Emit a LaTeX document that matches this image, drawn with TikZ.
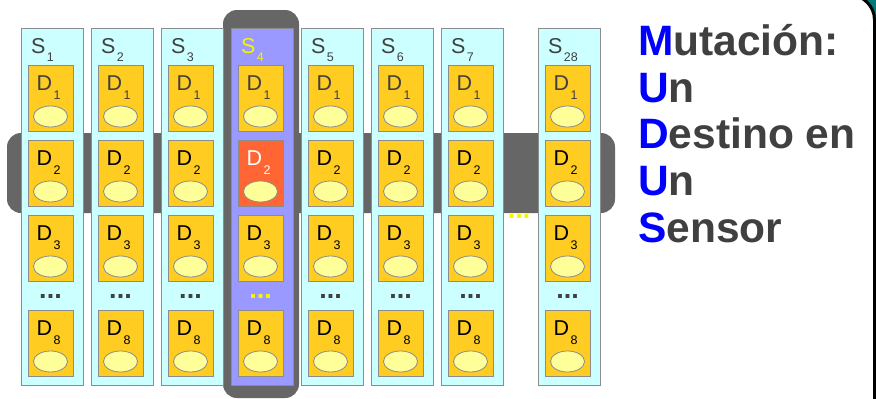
\documentclass[tikz,border=0pt]{standalone}
\usepackage{fontspec}
\setmainfont{Liberation Sans}
\usetikzlibrary{shapes.geometric}
\definecolor{darkbar}{HTML}{666666}
\definecolor{colfill}{HTML}{CCFFFF}
\definecolor{selfill}{HTML}{9999FF}
\definecolor{dfill}{HTML}{FFCC22}
\definecolor{efill}{HTML}{FFFF99}
\definecolor{redfill}{HTML}{FF6633}
\definecolor{txtgray}{HTML}{404040}
\definecolor{tealbg}{HTML}{007A7A}
\definecolor{selyellow}{HTML}{F5F500}
\definecolor{boxline}{HTML}{8C8C8C}
\definecolor{initblue}{HTML}{0000FF}
\newcommand{\sublab}[2]{{\fontsize{21.5}{24}\selectfont #1}\kern1.3pt\raisebox{-8.5pt}{\fontsize{12.5}{14}\selectfont #2}}
\tikzset{
  colbox/.style={draw=boxline, line width=0.8pt, rectangle, anchor=north west, inner sep=0pt, minimum width=62pt, minimum height=357pt},
  dbox/.style={draw=boxline, line width=0.8pt, rectangle, anchor=north west, inner sep=0pt, minimum width=45pt, minimum height=66pt},
  oval/.style={ellipse, draw=boxline, line width=0.8pt, fill=efill, inner sep=0pt, minimum width=34pt, minimum height=21pt},
  lab/.style={anchor=base west, inner sep=0pt},
  dotsn/.style={anchor=base, inner sep=0pt, font=\fontsize{27}{30}\selectfont\bfseries},
  bigline/.style={anchor=base west, inner sep=0pt, text=txtgray, font=\fontsize{42.5}{47}\selectfont\bfseries}
}
\begin{document}
\begin{tikzpicture}[x=1pt, y=-1pt]
\useasboundingbox (0,0) rectangle (876,399);
\clip (0,0) rectangle (876,399);
% slide frame
\fill[tealbg] (845,-10) rectangle (880,40);
\filldraw[fill=white, draw=black, line width=3pt, rounded corners=25pt] (-50,-5) rectangle (874.5,450);
% dark highlight bars
\fill[darkbar, rounded corners=14pt] (223,10) rectangle (299,398);
\fill[darkbar, rounded corners=14pt] (7,133) rectangle (615,213);
\node[dotsn, text=selyellow] (gapdots) at (519,218) {...};
% sensor columns
\foreach \n/\x in {1/21,2/91,3/161,4/231,5/301,6/371,7/441,28/538}{
  \ifnum\n=4 \def\cf{selfill}\def\sc{selyellow}\else \def\cf{colfill}\def\sc{txtgray}\fi
  \node[colbox, fill=\cf] (s\n) at (\x,28) {};
  \node[lab, text=\sc] (s\n lab) at (\x+10,53) {\sublab{S}{\n}};
  \foreach \k/\t in {1/65,2/140,3/215,8/310}{
    \def\df{dfill}\def\dc{black}
    \ifnum\k=1 \def\dc{txtgray}\fi
    \ifnum\n=4 \ifnum\k=2 \def\df{redfill}\def\dc{white}\fi\fi
    \node[dbox, fill=\df] (s\n d\k) at (\x+7,\t) {};
    \node[lab, text=\dc] (s\n d\k lab) at (\x+15.5,\t+25.5) {\sublab{D}{\k}};
    \node[oval] (s\n e\k) at (\x+29.5,\t+51.5) {};
  }
  \node[dotsn, text=\sc] (s\n dots) at (\x+29.5,298) {...};
}
% right text
\node[bigline] (m1) at (638,55) {\textcolor{initblue}{M}utación:};
\node[bigline] (m2) at (638,102) {\textcolor{initblue}{U}n};
\node[bigline] (m3) at (638,148) {\textcolor{initblue}{D}estino en};
\node[bigline] (m4) at (638,195) {\textcolor{initblue}{U}n};
\node[bigline] (m5) at (638,242) {\textcolor{initblue}{S}ensor};
\end{tikzpicture}
\end{document}
